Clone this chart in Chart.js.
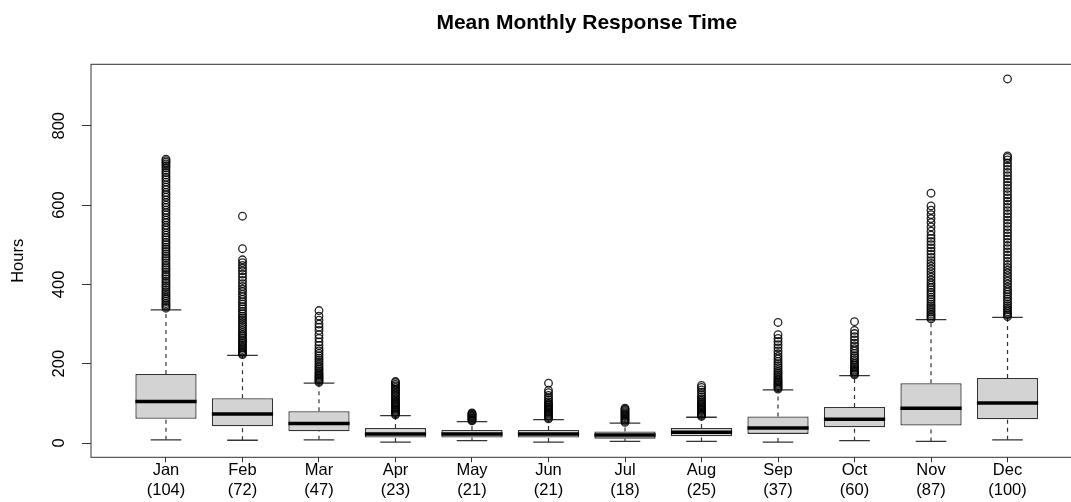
<!DOCTYPE html>
<html>
<head>
<meta charset="utf-8">
<title>Mean Monthly Response Time</title>
<script src="https://cdn.jsdelivr.net/npm/chart.js@4.4.0/dist/chart.umd.min.js"></script>
<style>
    html, body { margin: 0; padding: 0; background: #fff; overflow: hidden; }
    canvas { display: block; }
</style>
</head>
<body>
<!-- canvas is wider than the window: the plot's right edge falls outside, as in the original -->
<canvas id="responseChart" width="1173" height="502"></canvas>
<script>
// months and ticket counts shown under each box
const months = ['Jan', 'Feb', 'Mar', 'Apr', 'May', 'Jun', 'Jul', 'Aug', 'Sep', 'Oct', 'Nov', 'Dec'];
const counts = [104, 72, 47, 23, 21, 21, 18, 25, 37, 60, 87, 100];

// box statistics (hours)
const lowWhisker  = [8, 7, 8, 2.5, 6, 2.5, 4, 4, 2.5, 6, 4, 8];
const q1          = [61, 42, 29.5, 14, 14, 14, 11, 17, 23, 40, 44, 60];
const medians     = [105, 73, 49, 23, 23, 23, 20, 27, 38, 60, 88, 101];
const q3          = [174, 113, 80, 38, 33, 33, 29, 38, 67, 91, 151, 164];
const highWhisker = [336, 221, 151, 69, 54, 59, 50, 65, 134, 170, 311, 317];

// outliers, one list per month
const janOut = [340, 344, 348, 352, 357, 362, 366, 371, 376, 381, 386, 392, 397, 403, 408, 414, 420, 425, 431, 437,
    442, 448, 454, 460, 466, 471, 477, 483, 489, 494, 500, 506, 512, 518, 524, 530, 537, 543, 549, 556, 562, 568,
    575, 581, 587, 594, 600, 606, 613, 620, 626, 632, 639, 645, 651, 658, 664, 670, 676, 682, 688, 694, 699, 704,
    708, 712, 716];
const febOut = [223, 226, 229, 232, 236, 240, 244, 248, 252, 256, 260, 265, 270, 274, 279, 284, 289, 294, 299, 304,
    310, 315, 320, 326, 332, 338, 344, 350, 356, 362, 369, 375, 382, 388, 395, 402, 410, 418, 426, 434, 441, 448,
    455, 462, 490, 572];
const marOut = [153, 156, 159, 162, 165, 168, 171, 174, 178, 182, 186, 190, 194, 199, 204, 209, 214, 220, 226, 232,
    238, 246, 255, 264, 273, 284, 292, 300, 310, 320, 334];
const aprOut = [71, 74, 77, 80, 83, 86, 89, 92, 95, 98, 101, 104, 108, 112, 116, 120, 124, 128, 132, 136, 140, 144,
    148, 152, 155];
const mayOut = [56, 58, 60, 62, 64, 66, 68, 70, 72, 74, 76];
const junOut = [61, 64, 67, 70, 73, 76, 79, 82, 85, 88, 91, 94, 97, 100, 104, 109, 114, 120, 127, 133, 151];
const julOut = [52, 55, 58, 61, 64, 67, 70, 73, 76, 79, 82, 85, 88];
const augOut = [67, 70, 73, 76, 79, 82, 85, 88, 91, 94, 97, 100, 104, 108, 112, 117, 122, 128, 134, 140, 145];
const sepOut = [136, 139, 142, 145, 148, 151, 154, 157, 160, 164, 168, 172, 176, 180, 185, 190, 195, 200, 206, 212,
    218, 225, 232, 240, 248, 256, 264, 273, 304];
const octOut = [172, 175, 178, 181, 184, 188, 192, 196, 200, 205, 210, 215, 220, 226, 232, 238, 245, 252, 260, 268,
    276, 284, 306];
const novOut = [313, 317, 321, 325, 330, 335, 340, 345, 350, 356, 362, 368, 374, 380, 386, 392, 398, 404, 411, 418,
    425, 432, 439, 446, 453, 460, 468, 476, 484, 492, 500, 508, 516, 524, 534, 545, 556, 566, 576, 587, 598, 630];
const decOut = [319, 323, 327, 331, 336, 341, 346, 351, 357, 363, 369, 375, 381, 387, 394, 401, 408, 415, 422, 429,
    436, 443, 450, 458, 466, 474, 482, 490, 498, 506, 514, 522, 530, 538, 546, 554, 562, 570, 578, 586, 594, 602,
    610, 618, 626, 634, 642, 650, 658, 666, 674, 682, 690, 698, 706, 714, 720, 724, 918];
const outliers = [janOut, febOut, marOut, aprOut, mayOut, junOut, julOut, augOut, sepOut, octOut, novOut, decOut];

const yTicks = [0, 200, 400, 600, 800];

Chart.defaults.font.family = '"Liberation Sans", Arial, sans-serif';
Chart.defaults.color = '#000';

// build the pieces of each box from the arrays above
const boxData = months.map((m, i) => ({ x: i + 1, y: [q1[i], q3[i]] }));
const medianData = months.map((m, i) => ({ x: i + 1, y: medians[i] }));
const stapleData = months.flatMap((m, i) => [
    { x: i + 1, y: lowWhisker[i] },
    { x: i + 1, y: highWhisker[i] }
]);
const whiskerData = months.flatMap((m, i) => [
    { x: i + 1, y: lowWhisker[i] }, { x: i + 1, y: q1[i] }, { x: i + 1, y: null },
    { x: i + 1, y: q3[i] }, { x: i + 1, y: highWhisker[i] }, { x: i + 1, y: null }
]);
const outlierData = outliers.flatMap((list, i) => list.map(v => ({ x: i + 1, y: v })));

// plot frame like R's box()
const framePlugin = {
    id: 'frame',
    afterDraw(chart) {
        const { ctx, chartArea } = chart;
        ctx.save();
        ctx.strokeStyle = '#333';
        ctx.lineWidth = 1;
        ctx.strokeRect(chartArea.left, chartArea.top,
            chartArea.right - chartArea.left, chartArea.bottom - chartArea.top);
        ctx.restore();
    }
};

const ctx = document.getElementById('responseChart').getContext('2d');

new Chart(ctx, {
    type: 'bar',
    data: {
        datasets: [
            {
                type: 'scatter',
                label: 'outliers',
                data: outlierData,
                pointStyle: 'circle',
                pointRadius: 3.8,
                borderWidth: 1.3,
                borderColor: 'rgba(0, 0, 0, 0.85)',
                backgroundColor: 'rgba(0, 0, 0, 0)',
                order: 0
            },
            {
                type: 'scatter',
                label: 'median',
                data: medianData,
                pointStyle: 'line',
                pointRadius: 30.6,
                borderWidth: 3.5,
                borderColor: '#000',
                order: 1
            },
            {
                type: 'bar',
                label: 'box',
                data: boxData,
                backgroundColor: '#d3d3d3',
                borderColor: '#333',
                borderWidth: 1.3,
                borderSkipped: false,
                barPercentage: 0.8,
                categoryPercentage: 1,
                order: 2
            },
            {
                type: 'scatter',
                label: 'staples',
                data: stapleData,
                pointStyle: 'line',
                pointRadius: 15.3,
                borderWidth: 1.3,
                borderColor: '#333',
                order: 3
            },
            {
                type: 'line',
                label: 'whiskers',
                data: whiskerData,
                borderColor: '#333',
                borderWidth: 1.2,
                borderDash: [4, 4],
                pointRadius: 0,
                spanGaps: false,
                order: 4
            }
        ]
    },
    options: {
        responsive: false,
        animation: false,
        events: [],
        layout: {
            padding: { left: 0, right: 90.5, top: 0, bottom: 0 }
        },
        scales: {
            x: {
                type: 'linear',
                position: 'bottom',
                offset: false,
                min: 0.02,
                max: 12.98,
                afterBuildTicks: scale => {
                    scale.ticks = months.map((m, i) => ({ value: i + 1 }));
                },
                afterFit: scale => { scale.height = 44.7; },
                grid: { drawOnChartArea: false, offset: false, tickLength: 5, color: '#333' },
                border: { display: false },
                ticks: {
                    autoSkip: false,
                    maxRotation: 0,
                    padding: -2,
                    color: '#000',
                    font: { size: 16.5 },
                    callback: value => [months[value - 1], '(' + counts[value - 1] + ')']
                }
            },
            y: {
                type: 'linear',
                min: -36,
                max: 955,
                afterBuildTicks: scale => {
                    scale.ticks = yTicks.map(v => ({ value: v }));
                },
                afterFit: scale => { scale.width = 91; },
                grid: { drawOnChartArea: false, tickLength: 9, color: '#333' },
                border: { display: false },
                ticks: {
                    minRotation: 90,
                    maxRotation: 90,
                    crossAlign: 'center',
                    padding: 9,
                    color: '#000',
                    font: { size: 16.5 }
                },
                title: {
                    display: true,
                    text: 'Hours',
                    color: '#000',
                    font: { size: 16.5 },
                    padding: { top: 9, bottom: 0 }
                }
            }
        },
        plugins: {
            legend: { display: false },
            tooltip: { enabled: false },
            title: {
                display: true,
                fullSize: false,
                text: 'Mean Monthly Response Time',
                color: '#000',
                font: { size: 21, weight: 'bold' },
                padding: { top: 11, bottom: 28.1 }
            }
        }
    },
    plugins: [framePlugin]
});
</script>
</body>
</html>
